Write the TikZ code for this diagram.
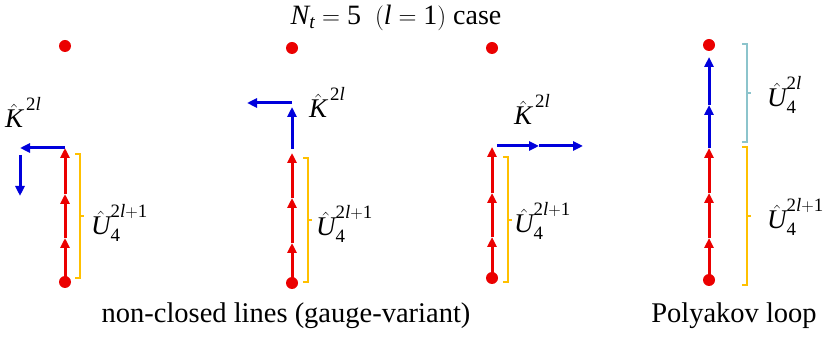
\documentclass[tikz,border=0pt]{standalone}
\usepackage{amsmath}
\usepackage{fontspec}
\setmainfont{Liberation Serif}
\usetikzlibrary{arrows.meta}
\definecolor{lred}{RGB}{235,0,0}
\definecolor{lblue}{RGB}{0,0,220}
\definecolor{lgold}{RGB}{255,192,0}
\definecolor{lteal}{RGB}{140,196,204}
\newcommand{\ti}[1]{\text{\itshape #1}}
\newcommand{\tu}[1]{\text{\upshape #1}}
\newcommand{\Klab}{$\hat{\ti{K}}^{\,\tu{2}\ti{l}}$}
\newcommand{\Ulab}{$\hat{\ti{U}}_{\tu{4}}^{\tu{2}\ti{l}+\tu{1}}$}
\newcommand{\Ulabb}{$\hat{\ti{U}}_{\tu{4}}^{\tu{2}\ti{l}}$}
\begin{document}
\begin{tikzpicture}[x=1pt,y=-1pt,
  txt/.style={font=\fontsize{28.5}{32}\selectfont, inner sep=0pt, anchor=base},
  lab/.style={font=\fontsize{27}{30}\selectfont, inner sep=0pt, anchor=base west},
  site/.style={circle, fill=lred, draw=none, minimum size=12pt, inner sep=0pt},
  rlink/.style={lred, line width=3pt, -{Triangle[length=10pt,width=9pt]}},
  blink/.style={lblue, line width=3pt, -{Triangle[length=10pt,width=9pt]}},
  ybrk/.style={lgold, line width=2.5pt},
  tbrk/.style={lteal, line width=2.5pt}]
\useasboundingbox (0,0) rectangle (827,344);

% title
\node[txt, font=\fontsize{28}{32}\selectfont] (title) at (396,25) {$\ti{N}_{\ti{t}} = \tu{5}\ \ (\ti{l} = \tu{1})$ case};

% ---------- panel 1 ----------
\node[site] (a0) at (65,282) {};
\coordinate (a1) at (65,238);
\coordinate (a2) at (65,194);
\coordinate (a3) at (65,148);
\node[site] (at) at (65,46) {};
\draw[rlink] (a0.center) -- (a1);
\draw[rlink] (a1) -- (a2);
\draw[rlink] (a2) -- (a3);
\coordinate (ak1) at (20,148);
\coordinate (ak2) at (20,155);
\coordinate (ak3) at (20,196);
\draw[blink] (a3) -- (ak1);
\draw[blink] (ak2) -- (ak3);
\node[lab] (aK) at (5,128) {\Klab};
\draw[ybrk] (75,154) -- (80,154) -- (80,278) -- (75,278);
\draw[ybrk] (80,216) -- (84,216);
\node[lab] (aU) at (91,235) {\Ulab};

% ---------- panel 2 ----------
\node[site] (b0) at (292,283) {};
\coordinate (b1) at (292,243);
\coordinate (b2) at (292,198);
\coordinate (b3) at (292,153);
\node[site] (bt) at (292,48) {};
\draw[rlink] (b0.center) -- (b1);
\draw[rlink] (b1) -- (b2);
\draw[rlink] (b2) -- (b3);
\coordinate (bk0) at (292,149);
\coordinate (bk1) at (292,107);
\coordinate (bk2) at (292,103);
\coordinate (bk3) at (247,103);
\draw[blink] (bk0) -- (bk1);
\draw[blink] (bk2) -- (bk3);
\node[lab] (bK) at (309,118) {\Klab};
\draw[ybrk] (303,158) -- (308,158) -- (308,282) -- (303,282);
\draw[ybrk] (308,220) -- (312,220);
\node[lab] (bU) at (316,236) {\Ulab};

% ---------- panel 3 ----------
\node[site] (c0) at (492,278) {};
\coordinate (c1) at (492,237);
\coordinate (c2) at (492,193);
\coordinate (c3) at (492,147);
\node[site] (ct) at (492,48) {};
\draw[rlink] (c0.center) -- (c1);
\draw[rlink] (c1) -- (c2);
\draw[rlink] (c2) -- (c3);
\coordinate (ck0) at (497,146);
\coordinate (ck1) at (539,146);
\coordinate (ck2) at (583,146);
\draw[blink] (ck0) -- (ck1);
\draw[blink] (ck1) -- (ck2);
\node[lab] (cK) at (514,125) {\Klab};
\draw[ybrk] (503,157) -- (508,157) -- (508,282) -- (503,282);
\draw[ybrk] (508,220) -- (512,220);
\node[lab] (cU) at (514,233) {\Ulab};

% ---------- panel 4 ----------
\node[site] (d0) at (709,280) {};
\coordinate (d1) at (709,238);
\coordinate (d2) at (709,193);
\coordinate (d3) at (709,148);
\coordinate (d4) at (709,105);
\coordinate (d5) at (709,57);
\node[site] (dt) at (709,45) {};
\draw[rlink] (d0.center) -- (d1);
\draw[rlink] (d1) -- (d2);
\draw[rlink] (d2) -- (d3);
\draw[blink] (d3) -- (d4);
\draw[blink] (d4) -- (d5);
\draw[tbrk] (742,44) -- (747,44) -- (747,142) -- (742,142);
\draw[tbrk] (747,93) -- (751,93);
\draw[ybrk] (742,147) -- (747,147) -- (747,285) -- (742,285);
\draw[ybrk] (747,216) -- (751,216);
\node[lab] (dU1) at (767,107) {\Ulabb};
\node[lab] (dU2) at (767,229) {\Ulab};

% captions
\node[txt] (cap1) at (286,323) {non-closed lines (gauge-variant)};
\node[txt] (cap2) at (734,323) {Polyakov loop};
\end{tikzpicture}
\end{document}
